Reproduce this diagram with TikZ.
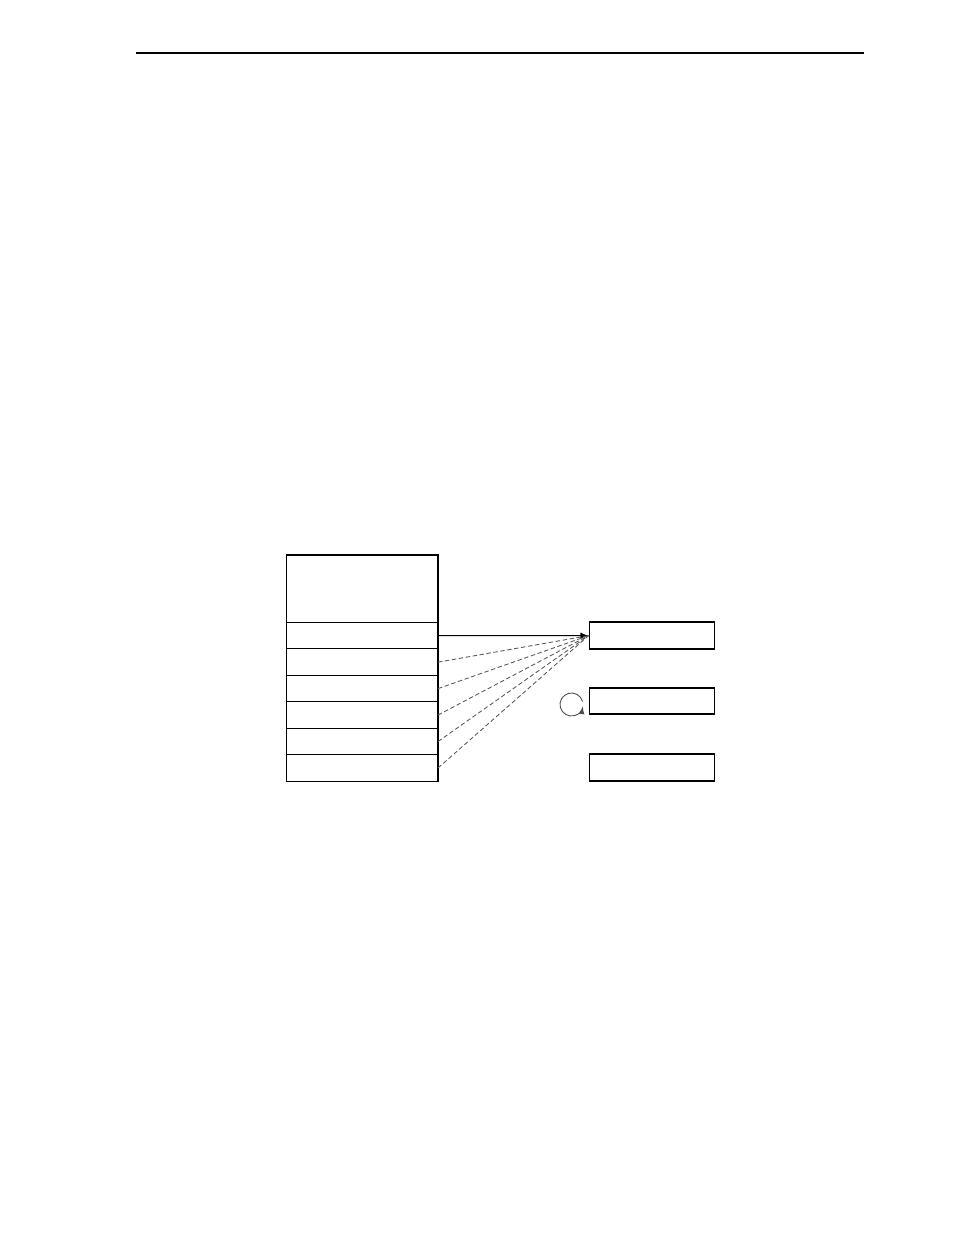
\documentclass[tikz,border=0pt]{standalone}
\usepackage{amsmath,amssymb}
\usepackage{tikz}
\usetikzlibrary{positioning}
\tikzset{
  cell/.style={draw, line width=0.6pt, minimum width=3.03cm, minimum height=0.529cm, inner sep=0pt, outer sep=0pt},
  slot/.style={draw, line width=1.1pt, minimum width=2.5cm, minimum height=0.53cm, inner sep=0pt},
  link/.style={dashed, dash pattern=on 2.5pt off 1.5pt, gray!70!black, line width=0.5pt}
}
\begin{document}
\begin{tikzpicture}
    \useasboundingbox (0,0) rectangle (19.08,24.7);
    % Header rule
    \coordinate (ruleL) at (2.72,23.64);
    \coordinate (ruleR) at (17.28,23.64);
    \draw[line width=0.8pt] (ruleL) -- (ruleR);
    
    % Table
    \node[cell, minimum height=1.35cm, anchor=north west] (head) at (5.73,13.6) {};
    \node[cell, below=0pt of head] (row1) {};
    \foreach \i [count=\j from 1] in {2,...,6}
        \node[cell, below=0pt of row\j] (row\i) {};
    
    % Targets
    \node[slot] (dest1) at (13.04,11.987) {};
    \node[slot] (dest2) at (13.04,10.683) {};
    \node[slot] (dest3) at (13.04,9.35) {};
    
    % Arrows
    \draw[-latex, line width=0.6pt] (row1.east) -- (dest1.west);
    \foreach \i in {2,...,6}
        \draw[link] (row\i.east) -- (dest1.west);
    
    % Loop
    \coordinate (spin) at (11.43,10.61);
    \draw[-latex, gray!60!black, line width=0.5pt] ([shift={(15:0.23)}]spin) arc[start angle=15, end angle=350, radius=0.23];
\end{tikzpicture}
\end{document}
